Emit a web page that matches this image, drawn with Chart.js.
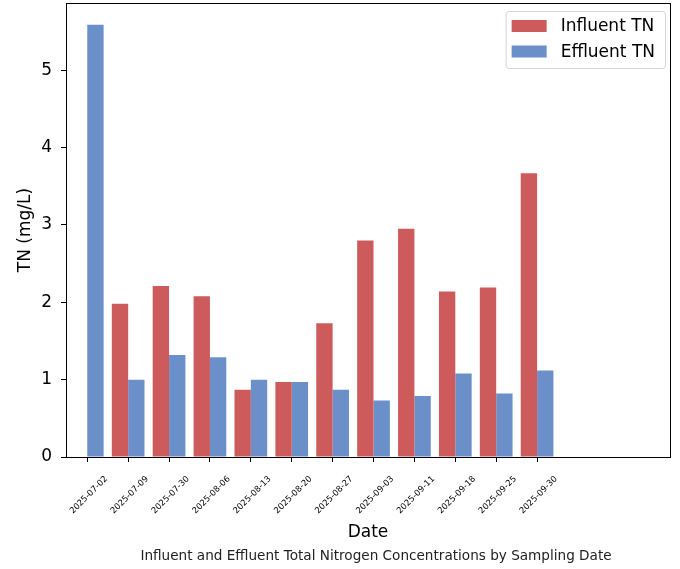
<!DOCTYPE html>
<html lang="en">
<head>
<meta charset="UTF-8">
<title>Influent and Effluent TN</title>
<style>
  html, body { margin: 0; padding: 0; background: #fff; }
</style>
<script src="https://cdn.jsdelivr.net/npm/chart.js"></script>
</head>
<body>
<canvas id="tnChart" width="680" height="569"></canvas>
<script>
  // sampling dates and concentrations (mg/L)
  const dates = ['2025-07-02', '2025-07-09', '2025-07-30', '2025-08-06', '2025-08-13', '2025-08-20',
                 '2025-08-27', '2025-09-03', '2025-09-11', '2025-09-18', '2025-09-25', '2025-09-30'];
  const influentTN = [null, 1.98, 2.21, 2.08, 0.87, 0.97, 1.73, 2.80, 2.95, 2.14, 2.19, 3.67];
  const effluentTN = [5.59, 1.00, 1.32, 1.29, 1.00, 0.97, 0.87, 0.73, 0.79, 1.08, 0.82, 1.12];
  const yTicks = [0, 1, 2, 3, 4, 5];
  const caption = 'Influent and Effluent Total Nitrogen Concentrations by Sampling Date';

  const RED = '#cd5b5b';
  const BLUE = '#6b90c9';

  Chart.defaults.font.family = "'DejaVu Sans', sans-serif";
  Chart.defaults.color = '#000';

  // box around the plot, legend in the upper right corner, caption under the figure
  const frameAndLegend = {
    id: 'frameAndLegend',
    afterDatasetsDraw(chart) {
      const { ctx, chartArea: a } = chart;
      ctx.save();
      ctx.strokeStyle = '#000';
      ctx.lineWidth = 1;
      ctx.strokeRect(Math.round(a.left) + 0.5, Math.round(a.top) + 0.5,
                     Math.round(a.right - a.left), Math.round(a.bottom - a.top));

      ctx.font = "17px 'DejaVu Sans'";
      const items = chart.data.datasets;
      const textW = Math.max(...items.map(d => ctx.measureText(d.label).width));
      const w = 6 + 35 + 14 + textW + 10;
      const h = 57;
      const x0 = a.right - 5 - w;
      const y0 = a.top + 8;
      ctx.beginPath();
      ctx.roundRect(x0 + 0.5, y0 + 0.5, w, h, 3);
      ctx.fillStyle = 'rgba(255,255,255,0.8)';
      ctx.fill();
      ctx.strokeStyle = '#d6d6d6';
      ctx.stroke();
      items.forEach((d, i) => {
        const cy = y0 + 15 + i * 25.5;
        ctx.fillStyle = d.backgroundColor;
        ctx.fillRect(x0 + 6, cy - 6, 35, 12);
        ctx.fillStyle = '#000';
        ctx.textBaseline = 'middle';
        ctx.fillText(d.label, x0 + 55, cy + 1);
      });

      ctx.font = "13.6px 'DejaVu Sans'";
      ctx.fillStyle = '#222';
      ctx.textAlign = 'center';
      ctx.textBaseline = 'middle';
      ctx.fillText(caption, (a.left + a.right) / 2 + 8, chart.height - 13);
      ctx.restore();
    }
  };

  new Chart(document.getElementById('tnChart'), {
    type: 'bar',
    data: {
      datasets: [
        { label: 'Influent TN', data: influentTN.map((v, i) => ({ x: i, y: v })), backgroundColor: RED },
        { label: 'Effluent TN', data: effluentTN.map((v, i) => ({ x: i, y: v })), backgroundColor: BLUE }
      ]
    },
    options: {
      responsive: false,
      animation: false,
      categoryPercentage: 0.8,
      barPercentage: 1.0,
      layout: { padding: { top: 3, right: 10, left: 0, bottom: 24 } },
      scales: {
        x: {
          type: 'linear',
          min: -0.52,
          max: 14.25,
          offset: false,
          afterBuildTicks: s => { s.ticks = dates.map((d, i) => ({ value: i })); },
          ticks: {
            callback: v => dates[v],
            autoSkip: false,
            minRotation: 45,
            maxRotation: 45,
            font: { size: 8.5 },
            labelOffset: 19,
            padding: 12
          },
          grid: { offset: false, drawOnChartArea: false, drawTicks: true, tickLength: 5, color: '#000' },
          border: { display: false },
          title: { display: true, text: 'Date', font: { size: 17 }, padding: { top: 0, bottom: 2 } },
          afterFit: s => { s.height = 88; s.paddingLeft = 0; s.paddingRight = 0; }
        },
        y: {
          min: 0,
          max: 5.87,
          afterBuildTicks: s => { s.ticks = yTicks.map(v => ({ value: v })); },
          ticks: { font: { size: 17 }, padding: 9 },
          grid: { drawOnChartArea: false, drawTicks: true, tickLength: 5, color: '#000' },
          border: { display: false },
          title: { display: true, text: 'TN (mg/L)', font: { size: 17 }, padding: { top: 15 } },
          afterFit: s => { s.width = 66; s.paddingTop = 0; s.paddingBottom = 0; }
        }
      },
      plugins: {
        legend: { display: false },
        tooltip: { enabled: false },
        title: { display: false }
      }
    },
    plugins: [frameAndLegend]
  });
</script>
</body>
</html>
